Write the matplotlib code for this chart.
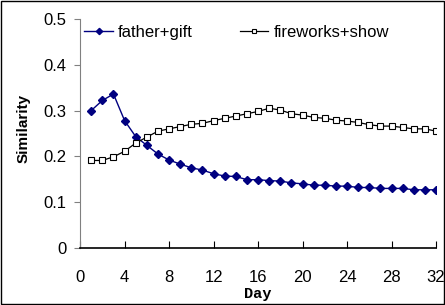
import matplotlib
matplotlib.use("Agg")
import matplotlib.pyplot as plt
from matplotlib.patches import Rectangle

days = list(range(1, 33))
father_gift = [0.300, 0.322, 0.336, 0.278, 0.243, 0.224, 0.205, 0.192, 0.183, 0.175,
               0.170, 0.162, 0.157, 0.156, 0.149, 0.149, 0.147, 0.146, 0.142, 0.140,
               0.137, 0.137, 0.135, 0.135, 0.132, 0.132, 0.130, 0.130, 0.130, 0.127,
               0.127, 0.127]
fireworks_show = [0.191, 0.191, 0.199, 0.211, 0.229, 0.242, 0.255, 0.260, 0.265, 0.270,
                  0.272, 0.278, 0.283, 0.288, 0.293, 0.298, 0.305, 0.301, 0.293, 0.290,
                  0.285, 0.283, 0.279, 0.277, 0.274, 0.269, 0.266, 0.266, 0.263, 0.260,
                  0.260, 0.255]
xticks = list(range(0, 33, 4))
yticks = [0, 0.1, 0.2, 0.3, 0.4, 0.5]
ytick_labels = ["0", "0.1", "0.2", "0.3", "0.4", "0.5"]

plt.rcParams["font.family"] = ["Liberation Sans", "DejaVu Sans"]

fig = plt.figure(figsize=(4.45, 3.05), dpi=100)
ax = fig.add_axes([0.180, 0.187, 0.800, 0.751])

ax.plot(days, father_gift, color="#000080", lw=1.0, marker="D", ms=4,
        mfc="#000080", mec="#000080", label="father+gift")
ax.plot(days, fireworks_show, color="black", lw=0.9, marker="s", ms=4.4,
        mfc="white", mec="black", mew=0.8, label="fireworks+show")

ax.set_xlim(0, 32)
ax.set_ylim(0, 0.5)
ax.set_xticks(xticks)
ax.set_yticks(yticks)
ax.set_yticklabels(ytick_labels)
ax.tick_params(axis="y", direction="out", length=4, width=0.8, color="#808080",
               labelsize=12, pad=6)
ax.tick_params(axis="x", direction="in", length=5, width=0.8, color="black",
               labelsize=12, pad=16)
for s in ("top", "right"):
    ax.spines[s].set_visible(False)
ax.spines["left"].set_color("#808080")
ax.spines["bottom"].set_color("black")
ax.spines["bottom"].set_linewidth(1.2)

ax.set_ylabel("Similarity", fontsize=11, fontweight="bold")
ax.yaxis.set_label_coords(-0.14, 0.52)
ax.set_xlabel("Day", fontsize=11, fontweight="bold",
              family=["Liberation Mono", "DejaVu Sans Mono"], labelpad=1)

ax.legend(loc="upper left", bbox_to_anchor=(-0.03, 1.04), ncol=2, frameon=False,
          fontsize=12, handlelength=1.7, handletextpad=0.3, columnspacing=2.85,
          markerscale=0.8)

fig.add_artist(Rectangle((0.002, 0.003), 0.995, 0.994, transform=fig.transFigure,
                         fill=False, ec="black", lw=1.0))

fig.savefig("out.png", dpi=100)
